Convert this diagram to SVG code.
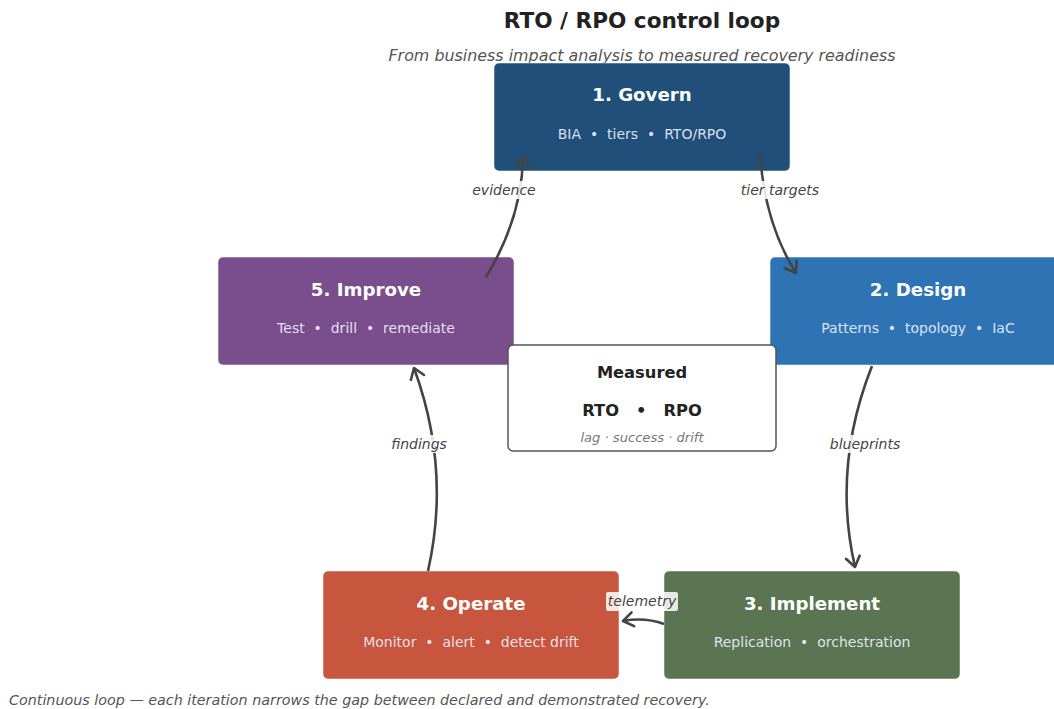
<svg xmlns="http://www.w3.org/2000/svg" width="1054" height="709" viewBox="0 0 1054 709">
<style>
text{font-family:"DejaVu Sans","Liberation Sans",sans-serif}
.title{font-size:21.6px;font-weight:bold;fill:#222;text-anchor:middle}
.sub{font-size:15.9px;font-style:italic;fill:#555;text-anchor:middle}
.nt{font-size:18.2px;font-weight:bold;fill:#fff;text-anchor:middle}
.ns{font-size:14px;fill:#eef;text-anchor:middle;fill-opacity:0.92;white-space:pre}
.box{stroke:#fff;stroke-width:1;stroke-opacity:0.5}
.edge{fill:none;stroke:#444;stroke-width:2.6;marker-end:url(#ah)}
.el{font-size:14px;font-style:italic;fill:#444;text-anchor:middle}
.lb{fill:#fff;fill-opacity:0.85}
.foot{font-size:14.3px;font-style:italic;fill:#555}
</style>
<defs>
<marker id="ah" markerUnits="userSpaceOnUse" markerWidth="20" markerHeight="20" refX="12" refY="8" orient="auto" viewBox="0 0 20 16">
<path d="M2,1 L12,8 L2,15" fill="none" stroke="#444" stroke-width="2.6" stroke-linecap="round" stroke-linejoin="round"/>
</marker>
</defs>
<rect width="1054" height="709" fill="#fff"/>
<text class="title" x="642" y="28">RTO / RPO control loop</text>
<text class="sub" x="642" y="61">From business impact analysis to measured recovery readiness</text>

<g id="node-govern">
<rect class="box" x="494" y="63" width="296" height="108" rx="5" fill="#20507a"/>
<text class="nt" x="642" y="101">1. Govern</text>
<text class="ns" x="642" y="139" xml:space="preserve">BIA  •  tiers  •  RTO/RPO</text>
</g>
<g id="node-design">
<rect class="box" x="770" y="257" width="296" height="108" rx="5" fill="#2e74b5"/>
<text class="nt" x="918" y="296">2. Design</text>
<text class="ns" x="918" y="333" xml:space="preserve">Patterns  •  topology  •  IaC</text>
</g>
<g id="node-implement">
<rect class="box" x="664" y="571" width="296" height="108" rx="5" fill="#5b7553"/>
<text class="nt" x="812" y="610">3. Implement</text>
<text class="ns" x="812" y="647" xml:space="preserve">Replication  •  orchestration</text>
</g>
<g id="node-operate">
<rect class="box" x="323" y="571" width="296" height="108" rx="5" fill="#c8553d"/>
<text class="nt" x="471" y="610">4. Operate</text>
<text class="ns" x="471" y="647" xml:space="preserve">Monitor  •  alert  •  detect drift</text>
</g>
<g id="node-improve">
<rect class="box" x="218" y="257" width="296" height="108" rx="5" fill="#7a4e8c"/>
<text class="nt" x="366" y="296">5. Improve</text>
<text class="ns" x="366" y="333" xml:space="preserve">Test  •  drill  •  remediate</text>
</g>

<g id="connectors">
<path class="edge" d="M486,277 Q522,218 523,157"/>
<path class="edge" d="M760,152 Q764,222 796,273"/>
<path class="edge" d="M872,366 Q832,467 855,567"/>
<path class="edge" d="M428,571 Q451,469 414,368"/>
<path class="edge" d="M664,624 Q645,617 623,621"/>
<rect class="lb" x="470" y="181" width="68" height="18" rx="2"/>
<text class="el" x="504" y="195">evidence</text>
<rect class="lb" x="738" y="181" width="84" height="18" rx="2"/>
<text class="el" x="780" y="195">tier targets</text>
<rect class="lb" x="828" y="435" width="74" height="18" rx="2"/>
<text class="el" x="865" y="449">blueprints</text>
<rect class="lb" x="389" y="435" width="60" height="18" rx="2"/>
<text class="el" x="419" y="449">findings</text>
<rect class="lb" x="606" y="592" width="72" height="19" rx="2"/>
<text class="el" x="642" y="606">telemetry</text>
</g>

<g id="node-measured">
<rect x="508" y="345" width="268" height="106" rx="5" fill="#fff" stroke="#555" stroke-width="1.5"/>
<text x="642" y="378" style="font-size:16.3px;font-weight:bold;fill:#222;text-anchor:middle">Measured</text>
<text x="642" y="416" style="font-size:16.3px;font-weight:bold;fill:#222;text-anchor:middle;white-space:pre" xml:space="preserve">RTO   •   RPO</text>
<text x="642" y="442" style="font-size:13.1px;font-style:italic;fill:#777;text-anchor:middle">lag · success · drift</text>
</g>

<text class="foot" x="9" y="705">Continuous loop — each iteration narrows the gap between declared and demonstrated recovery.</text>
</svg>
